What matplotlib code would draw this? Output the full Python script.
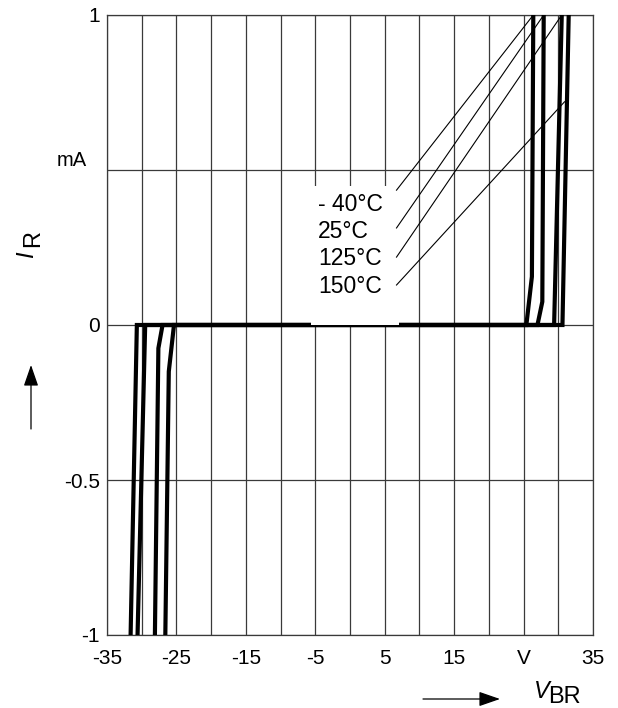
import numpy as np
import matplotlib.pyplot as plt
from matplotlib.patches import Rectangle

plt.rcParams['font.family'] = ['Liberation Sans', 'DejaVu Sans']

# curve data (V_BR in V, I_R in mA)
temps = ['- 40°C', '25°C', '125°C', '150°C']
v_m40 = [-26.6, -26.1, -25.35, 25.4, 26.2, 26.4]
i_m40 = [-1.0, -0.15, 0.0, 0.0, 0.156, 1.0]
v_25 = [-28.1, -27.6, -27.0, 27.0, 27.7, 27.9]
i_25 = [-1.0, -0.075, 0.0, 0.0, 0.075, 1.0]
v_125 = [-30.6, -29.5, 29.4, 30.5]
i_125 = [-1.0, 0.0, 0.0, 1.0]
v_150 = [-31.6, -30.7, 30.6, 31.5]
i_150 = [-1.0, 0.0, 0.0, 1.0]

# leader lines from labels to curves
lead_x0 = [6.7, 6.7, 6.7, 6.7]
lead_y0 = [0.435, 0.313, 0.219, 0.129]
lead_x1 = [26.4, 27.9, 30.5, 30.9]
lead_y1 = [1.0, 1.0, 1.0, 0.72]

xticks = [-35, -25, -15, -5, 5, 15, 25, 35]
xticklabels = ['-35', '-25', '-15', '-5', '5', '15', 'V', '35']
yticks = [-1, -0.5, 0, 0.5, 1]
yticklabels = ['-1', '-0.5', '0', '', '1']

fig = plt.figure(figsize=(6.18, 7.08), dpi=100)
ax = fig.add_axes([107/618, 73/708, 486/618, 620/708])

ax.set_xlim(-35, 35)
ax.set_ylim(-1, 1)
ax.set_xticks(xticks)
ax.set_xticklabels(xticklabels, fontsize=15)
ax.set_xticks(np.arange(-35, 36, 5), minor=True)
ax.set_yticks(yticks)
ax.set_yticklabels(yticklabels, fontsize=15)
ax.tick_params(which='both', length=0)
ax.tick_params(axis='x', pad=10)
ax.tick_params(axis='y', pad=5)
ax.grid(True, which='both', color='#3a3a3a', lw=0.9)
for s in ax.spines.values():
    s.set_color('#3a3a3a')
    s.set_linewidth(0.9)

for v, i in [(v_m40, i_m40), (v_25, i_25), (v_125, i_125), (v_150, i_150)]:
    ax.plot(v, i, color='black', lw=3.0, solid_joinstyle='miter', zorder=3)

# white label box
ax.add_patch(Rectangle((-5.6, 0.0), 12.66, 0.45, facecolor='white',
                       edgecolor='none', zorder=4))

for k in range(4):
    ax.plot([lead_x0[k], lead_x1[k]], [lead_y0[k], lead_y1[k]],
            color='black', lw=0.8, zorder=5)

label_y = [0.39, 0.30, 0.213, 0.123]
for t, y in zip(temps, label_y):
    ax.text(-4.6, y, t, fontsize=16.5, va='center', ha='left', zorder=6)

fig.text(87/618, 1 - 160/708, 'mA', fontsize=14.5, ha='right', va='center')

# axis labels
fig.text(550/618, 1 - 691/708, 'V', fontsize=17, style='italic',
         ha='right', va='center')
fig.text(548/618, 1 - 697/708, 'BR', fontsize=17, ha='left', va='center')
fig.text(27/618, 1 - 255/708, 'I', fontsize=17, style='italic',
         rotation=90, ha='center', va='center')
fig.text(33/618, 1 - 238/708, 'R', fontsize=17, rotation=90,
         ha='center', va='center')

# arrows
ax.annotate('', xy=(500, 708 - 699), xytext=(423, 708 - 699),
            xycoords='figure pixels', textcoords='figure pixels',
            arrowprops=dict(arrowstyle='-|>,head_length=1.3,head_width=0.45',
                            mutation_scale=10, color='black', lw=0.9,
                            shrinkA=0, shrinkB=0))
ax.annotate('', xy=(31, 708 - 365), xytext=(31, 708 - 429),
            xycoords='figure pixels', textcoords='figure pixels',
            arrowprops=dict(arrowstyle='-|>,head_length=1.3,head_width=0.45',
                            mutation_scale=10, color='black', lw=0.9,
                            shrinkA=0, shrinkB=0))

plt.savefig('out.png', dpi=100)
